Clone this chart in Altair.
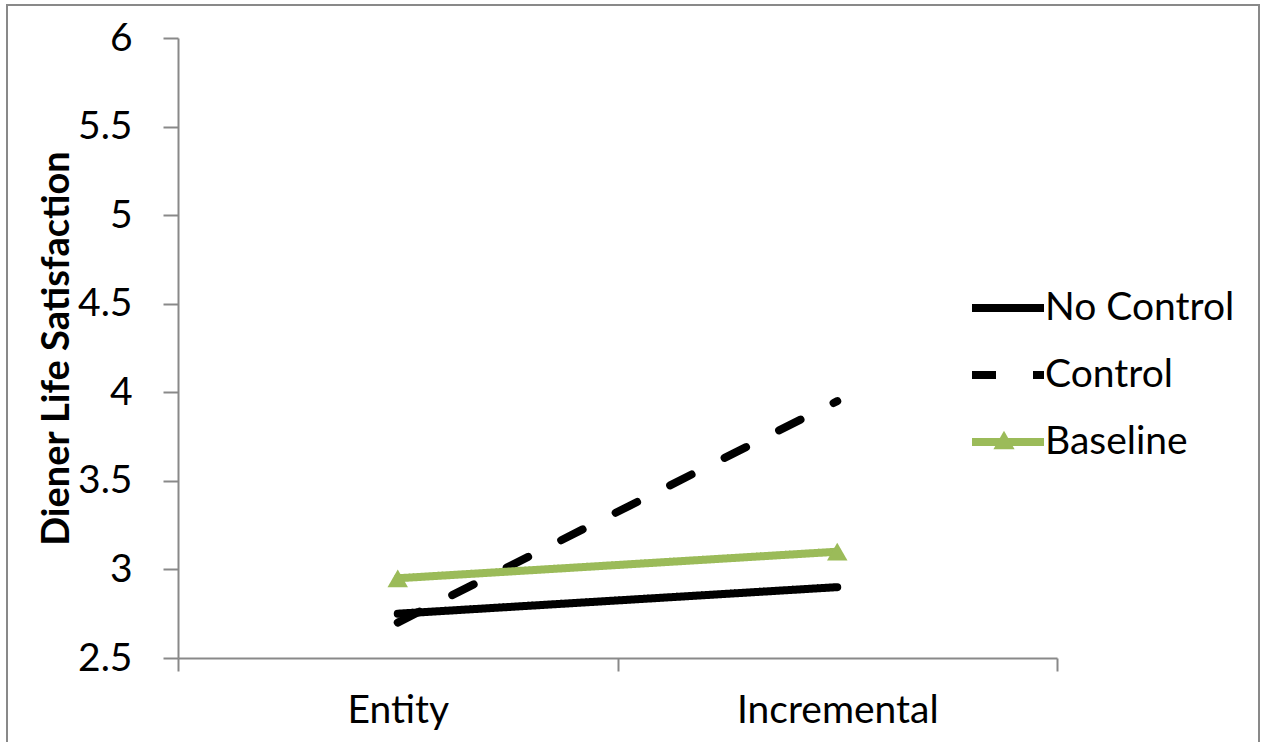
import altair as alt
import pandas as pd

categories = ["Entity", "Incremental"]
series_names = ["No Control", "Control", "Baseline"]
no_control = [2.75, 2.90]
control = [2.70, 3.95]
baseline = [2.95, 3.10]
y_ticks = [2.5, 3, 3.5, 4, 4.5, 5, 5.5, 6]

rows = []
for name, vals in zip(series_names, [no_control, control, baseline]):
    for c, v in zip(categories, vals):
        rows.append({"condition": c, "series": name, "value": v})
df = pd.DataFrame(rows)

FONT = "Lato"
GRAY = "#898989"
GREEN = "#9BBB59"

x_enc = alt.X(
    "condition:N",
    sort=categories,
    scale=alt.Scale(domain=categories, paddingInner=0, paddingOuter=0),
    axis=alt.Axis(
        title=None, labelAngle=0, tickBand="extent", tickSize=13,
        tickColor=GRAY, domainColor=GRAY, tickWidth=2, domainWidth=2,
        labelFont=FONT, labelFontSize=39, labelColor="black", labelPadding=20,
        labelLimit=500,
    ),
)
y_enc = alt.Y(
    "value:Q",
    scale=alt.Scale(domain=[2.5, 6], nice=False, zero=False),
    axis=alt.Axis(
        title="Diener Life Satisfaction", values=y_ticks, format="~g",
        grid=False, tickSize=15, tickColor=GRAY, domainColor=GRAY,
        tickWidth=2, domainWidth=2,
        labelFont=FONT, labelFontSize=39, labelColor="black", labelPadding=31,
        titleFont=FONT, titleFontSize=38, titleFontWeight="bold", titleColor="black",
        titleAngle=270, titleX=-110, titleY=310, titleBaseline="alphabetic",
        titleAlign="center", titleLimit=600,
    ),
)

line_legend = alt.Legend(
    title=None, orient="none", legendX=796, legendY=236,
    symbolType="M-1.2,0H1.2", symbolSize=3600, rowPadding=13, padding=0,
    labelFont=FONT, labelFontSize=39, labelColor="black", labelOffset=3,
    labelLimit=400,
)

lines = alt.Chart(df).mark_line(strokeCap="round", strokeJoin="round").encode(
    x=x_enc,
    y=y_enc,
    color=alt.Color("series:N", sort=series_names,
                    scale=alt.Scale(domain=series_names, range=["black", "black", GREEN]),
                    legend=line_legend),
    strokeDash=alt.StrokeDash("series:N", sort=series_names,
                              scale=alt.Scale(domain=series_names, range=[[1, 0], [24, 37], [1, 0]])),
    strokeWidth=alt.StrokeWidth("series:N", sort=series_names,
                                scale=alt.Scale(domain=series_names, range=[8, 8, 4.5])),
)

marker_legend = alt.Legend(
    title=None, orient="none", legendX=815, legendY=391,
    symbolSize=450, symbolFillColor=GREEN, symbolStrokeWidth=0, padding=0,
    labelExpr="''", labelFontSize=1, symbolOpacity=1,
)

points = alt.Chart(df).transform_filter(alt.datum.series == "Baseline").mark_point(
    filled=True, size=420, opacity=1, color=GREEN
).encode(
    x=x_enc, y=y_enc,
    shape=alt.Shape("series:N", scale=alt.Scale(domain=["Baseline"], range=["triangle-up"]),
                    legend=marker_legend),
)

frame = alt.Chart(alt.Data(values=[{"a": 1}])).mark_rect(
    fill=None, stroke=GRAY, strokeWidth=2
).encode(
    x=alt.value(-171), x2=alt.value(1081), y=alt.value(-33), y2=alt.value(730)
)

chart = alt.layer(frame, lines, points).properties(
    width=879, height=620,
    autosize=alt.AutoSizeParams(type="none"),
    padding={"left": 178, "top": 38, "right": 204, "bottom": 84},
    background="white",
).configure_view(stroke=None)

chart.save("out.html", embed_options={"renderer": "svg", "actions": False})
